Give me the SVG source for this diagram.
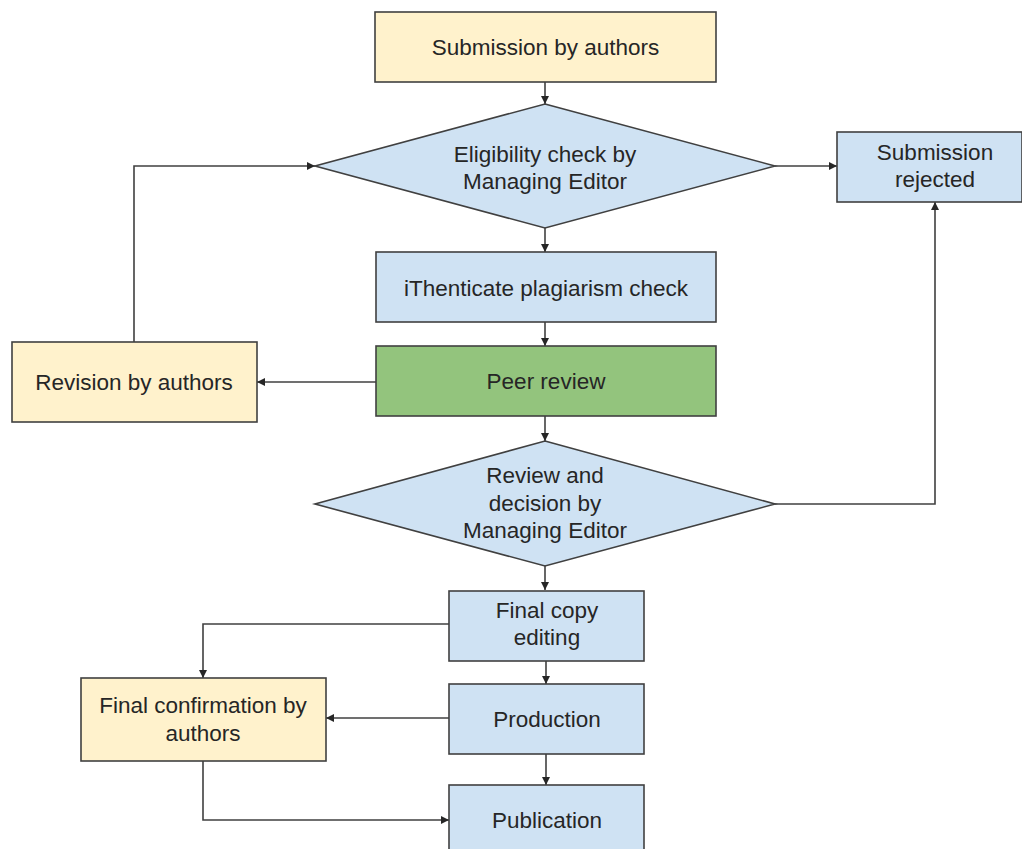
<svg xmlns="http://www.w3.org/2000/svg" width="1022" height="849" viewBox="0 0 1022 849">
<defs>
<style>
.n{stroke:#404040;stroke-width:1.6}
.y{fill:#fff2cc}
.b{fill:#cfe2f3}
.g{fill:#93c47d}
.t{font-family:"Liberation Sans",Arial,sans-serif;font-size:22.5px;fill:#262626;text-anchor:middle}
.c{fill:none;stroke:#404040;stroke-width:1.6}
</style>
<marker id="ah" viewBox="0 0 10 10" refX="10" refY="5" markerWidth="8" markerHeight="8" markerUnits="userSpaceOnUse" orient="auto">
<path d="M0,0 L10,5 L0,10 z" fill="#262626"/>
</marker>
</defs>
<rect width="1022" height="849" fill="#ffffff"/>
<g id="connectors">
<path class="c" d="M545,82 V104" marker-end="url(#ah)"/>
<path class="c" d="M545,228 V252" marker-end="url(#ah)"/>
<path class="c" d="M545,322 V346" marker-end="url(#ah)"/>
<path class="c" d="M545,416 V441" marker-end="url(#ah)"/>
<path class="c" d="M545,566 V590" marker-end="url(#ah)"/>
<path class="c" d="M546,661 V684" marker-end="url(#ah)"/>
<path class="c" d="M546,754 V785" marker-end="url(#ah)"/>
<path class="c" d="M775,166 H837" marker-end="url(#ah)"/>
<path class="c" d="M775,504 H935 V202" marker-end="url(#ah)"/>
<path class="c" d="M376,382 H257" marker-end="url(#ah)"/>
<path class="c" d="M134,342 V166 H315" marker-end="url(#ah)"/>
<path class="c" d="M449,624 H203 V678" marker-end="url(#ah)"/>
<path class="c" d="M449,718 H326" marker-end="url(#ah)"/>
<path class="c" d="M203,761 V820 H449" marker-end="url(#ah)"/>
</g>
<g id="submission">
<rect class="n y" x="375" y="12" width="341" height="70"/>
<text class="t" x="545.5" y="55">Submission by authors</text>
</g>
<g id="eligibility">
<polygon class="n b" points="545,104 775,166 545,228 315,166"/>
<text class="t" x="545" y="162">Eligibility check by</text>
<text class="t" x="545" y="189">Managing Editor</text>
</g>
<g id="rejected">
<rect class="n b" x="837" y="132" width="185" height="70"/>
<text class="t" x="935" y="160">Submission</text>
<text class="t" x="935" y="187">rejected</text>
</g>
<g id="ithenticate">
<rect class="n b" x="376" y="252" width="340" height="70"/>
<text class="t" x="546" y="296">iThenticate plagiarism check</text>
</g>
<g id="peer-review">
<rect class="n g" x="376" y="346" width="340" height="70"/>
<text class="t" x="546" y="389">Peer review</text>
</g>
<g id="revision">
<rect class="n y" x="12" y="342" width="245" height="80"/>
<text class="t" x="134" y="390">Revision by authors</text>
</g>
<g id="review-decision">
<polygon class="n b" points="545,441 775,504 545,566 315,504"/>
<text class="t" x="545" y="483">Review and</text>
<text class="t" x="545" y="511">decision by</text>
<text class="t" x="545" y="538">Managing Editor</text>
</g>
<g id="copy-editing">
<rect class="n b" x="449" y="591" width="195" height="70"/>
<text class="t" x="547" y="618">Final copy</text>
<text class="t" x="547" y="645">editing</text>
</g>
<g id="production">
<rect class="n b" x="449" y="684" width="195" height="70"/>
<text class="t" x="547" y="727">Production</text>
</g>
<g id="publication">
<rect class="n b" x="449" y="785" width="195" height="80"/>
<text class="t" x="547" y="828">Publication</text>
</g>
<g id="final-confirmation">
<rect class="n y" x="81" y="678" width="245" height="83"/>
<text class="t" x="203" y="713">Final confirmation by</text>
<text class="t" x="203" y="741">authors</text>
</g>
</svg>
